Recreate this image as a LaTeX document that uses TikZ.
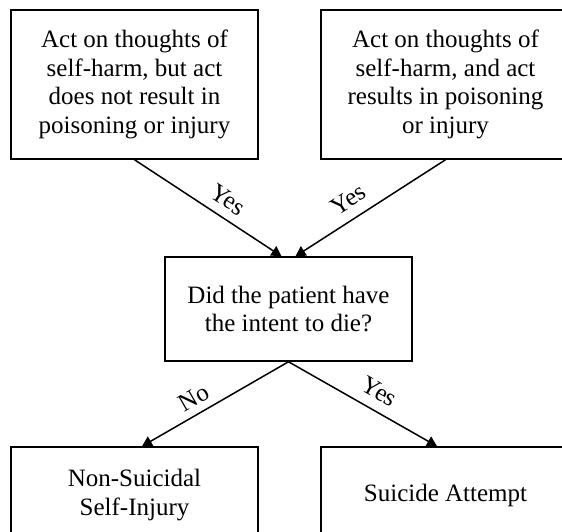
\documentclass[tikz,border=0pt]{standalone}
\usepackage{fontspec}
\setmainfont{Liberation Serif}
\usetikzlibrary{arrows.meta,calc}
\begin{document}
\begin{tikzpicture}[x=1pt,y=-1pt,
  box/.style={draw,line width=1.5pt,align=center,inner sep=0pt,
    font=\fontsize{25}{28.5}\selectfont},
  conn/.style={line width=1.5pt,-{Triangle[length=10pt,width=11pt]}},
  lab/.style={font=\fontsize{25}{27}\selectfont,sloped,inner sep=1pt}]
\useasboundingbox (0,0) rectangle (562,531);
\clip (0,0) rectangle (562,531);
\node[box,minimum width=247pt,minimum height=149pt] (tl) at (134.5,84.5)
  {Act on thoughts of\\self-harm, but act\\does not result in\\poisoning or injury};
\node[box,minimum width=249pt,minimum height=149pt] (tr) at (445.5,84.5)
  {Act on thoughts of\\self-harm, and act\\results in poisoning\\or injury};
\node[box,minimum width=247pt,minimum height=104pt] (mid) at (288.5,309)
  {Did the patient have\\the intent to die?};
\node[box,minimum width=247pt,minimum height=96pt] (bl) at (134.5,495)
  {Non-Suicidal\\Self-Injury};
\node[box,minimum width=249pt,minimum height=96pt] (br) at (445.5,495)
  {Suicide Attempt};
\draw[conn] (tl.south) -- node[lab,pos=0.57,above=8pt]{Yes} ($(mid.north)+(-7,0)$);
\draw[conn] (tr.south) -- node[lab,pos=0.58,above=9pt]{Yes} ($(mid.north)+(7,0)$);
\draw[conn] (mid.south) -- node[lab,pos=0.59,above=6pt]{No} ($(bl.north)+(7.5,0)$);
\draw[conn] (mid.south) -- node[lab,pos=0.55,above=9pt]{Yes} ($(br.north)+(-8.5,0)$);
\end{tikzpicture}
\end{document}
